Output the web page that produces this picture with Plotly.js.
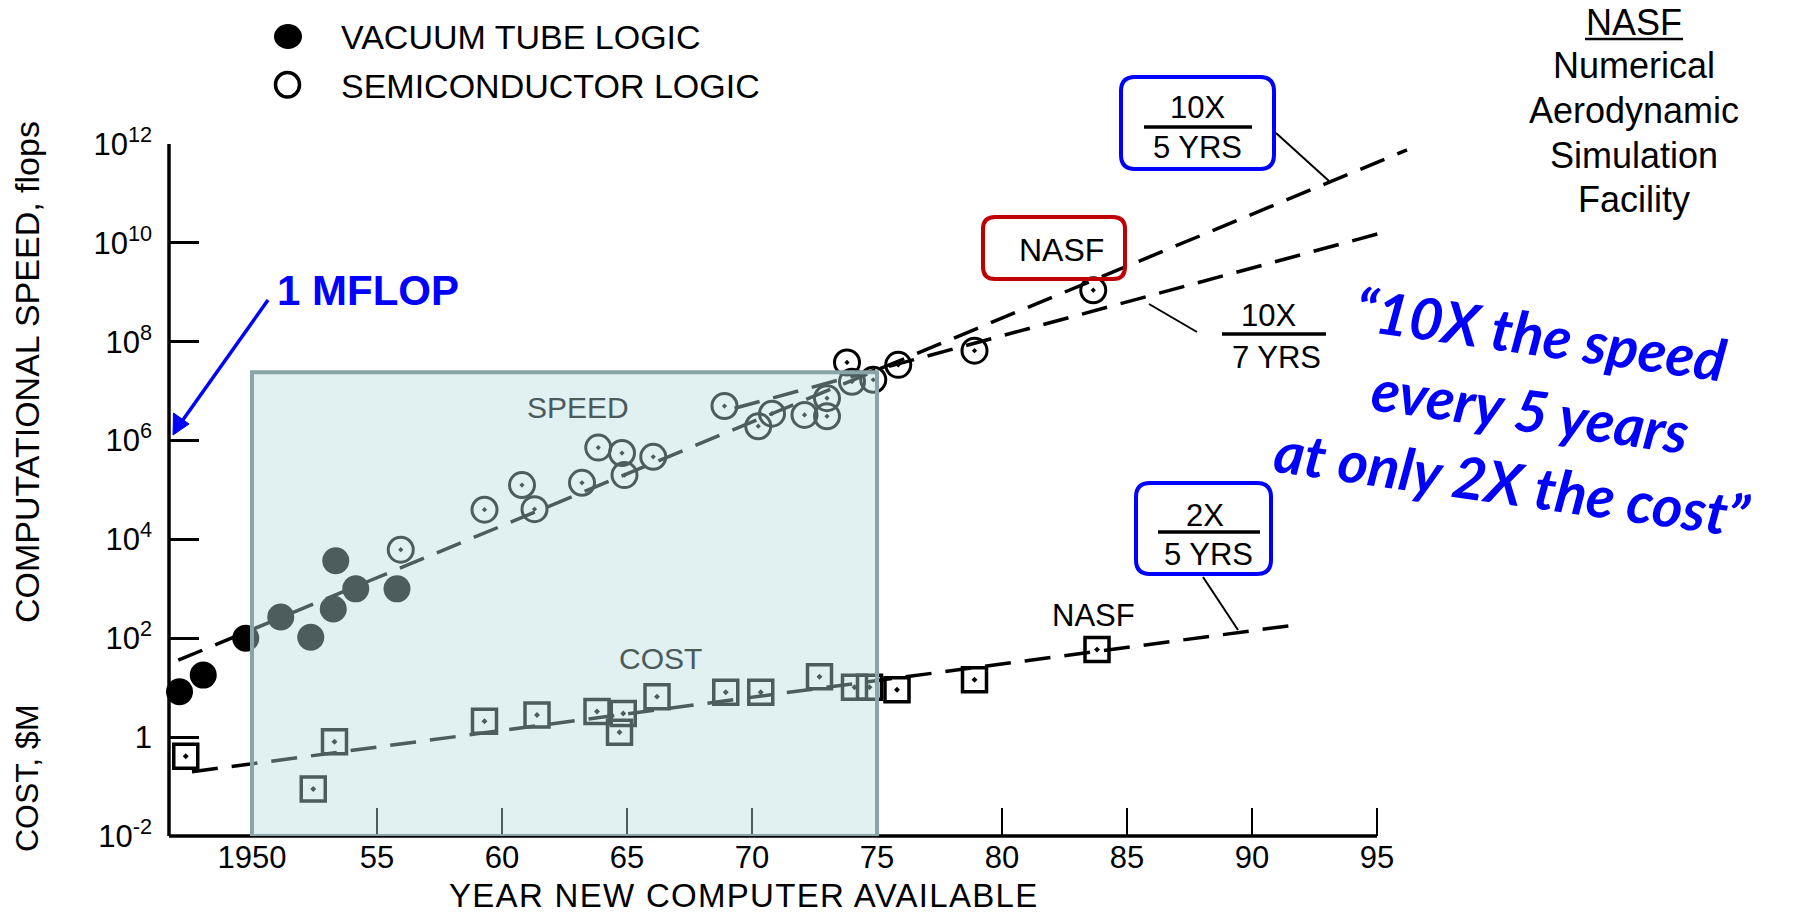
<!DOCTYPE html>
<html>
<head>
<meta charset="utf-8">
<script src="https://cdn.plot.ly/plotly-3.0.1.min.js"></script>
<style>html,body{margin:0;padding:0;background:#fff;}#chart{width:1794px;height:914px;}</style>
</head>
<body>
<div id="chart"></div>
<script>
// ---------------- data ----------------
const vacuumYear  = [1947.1, 1948.05, 1949.75, 1951.15, 1952.35, 1953.25, 1953.35, 1954.15, 1955.8];
const vacuumFlops = [8.3, 18, 100, 270, 105, 390, 3700, 1000, 1000];

const semiYear  = [1955.95, 1959.3, 1960.8, 1961.3, 1963.2, 1963.85, 1964.8, 1964.9, 1966.05, 1968.9,
                   1970.25, 1970.8, 1972.1, 1973.0, 1973.0, 1973.8, 1974.0, 1974.85, 1975.85, 1978.9, 1983.65];
const semiFlops = [6.2e3, 4.0e4, 1.26e5, 4.1e4, 1.4e5, 7.2e5, 5.6e5, 2.0e5, 4.7e5, 5.0e6,
                   1.95e6, 3.5e6, 3.3e6, 3.1e6, 7.2e6, 3.8e7, 1.55e7, 1.7e7, 3.4e7, 6.6e7, 1.1e9];

const costYear = [1947.35, 1952.45, 1953.3, 1959.3, 1961.4, 1963.8, 1964.85, 1964.7, 1966.2, 1968.95,
                  1970.35, 1972.7, 1974.1, 1974.7, 1975.8, 1978.9, 1983.8];
const costM    = [0.41, 0.089, 0.81, 2.1, 2.8, 3.3, 3.0, 1.26, 6.6, 8.1,
                  8.1, 16.6, 10.2, 10.2, 9.1, 14.5, 59];

const trend10x5Year = [1947.05, 1996.2];
const trend10x5Flops = [36, 7.6e11];
const trend10x7Year = [1969.3, 1995.1];
const trend10x7Flops = [4.5e6, 1.55e10];
const trend2x5Year = [1947.6, 1991.6];
const trend2x5Cost = [0.2, 182];

const highlightYears = [1950, 1975];
const highlightRange = [0.01, 2.4e7];

const xTickVals = [1950, 1955, 1960, 1965, 1970, 1975, 1980, 1985, 1990, 1995];
const xTickText = ['1950', '55', '60', '65', '70', '75', '80', '85', '90', '95'];
const yTickVals = [1e-2, 1, 1e2, 1e4, 1e6, 1e8, 1e10, 1e12];
const yTickText = ['10<sup>-2</sup>', '1', '10<sup>2</sup>', '10<sup>4</sup>', '10<sup>6</sup>',
                   '10<sup>8</sup>', '10<sup>10</sup>', '10<sup>12</sup>'];

// ---------------- layout helpers ----------------
const L = 169, T = 144, PW = 1243, PH = 692;
const px = x => (x - L) / PW;
const py = y => (T + PH - y) / PH;
const FONT = 'Liberation Sans, Arial, sans-serif';
const BLUE = '#0000ff';
const GREY = '#4b5a5b';
const ls = (t, s) => `<span style="letter-spacing:${s}px">${t}</span>`;

function rr(x0, y0, x1, y1, r) {
  const P = (x, y) => `${px(x)},${py(y)}`;
  return `M${P(x0 + r, y0)} L${P(x1 - r, y0)} Q${P(x1, y0)} ${P(x1, y0 + r)} L${P(x1, y1 - r)} Q${P(x1, y1)} ${P(x1 - r, y1)} ` +
         `L${P(x0 + r, y1)} Q${P(x0, y1)} ${P(x0, y1 - r)} L${P(x0, y0 + r)} Q${P(x0, y0)} ${P(x0 + r, y0)} Z`;
}
function pline(x0, y0, x1, y1, w, c) {
  return {type: 'line', xref: 'paper', yref: 'paper', x0: px(x0), y0: py(y0), x1: px(x1), y1: py(y1),
          line: {color: c || 'black', width: w}, layer: 'above'};
}
function ann(text, x, y, size, opts) {
  return Object.assign({text: text, xref: 'paper', yref: 'paper', x: px(x), y: py(y),
    xanchor: 'center', yanchor: 'middle', showarrow: false,
    font: {family: FONT, size: size, color: 'black'}}, opts || {});
}

const dash = '26px,14px';
const traces = [
  {x: trend10x5Year, y: trend10x5Flops, mode: 'lines', line: {color: 'black', width: 3.5, dash: dash}, hoverinfo: 'skip'},
  {x: trend10x7Year, y: trend10x7Flops, mode: 'lines', line: {color: 'black', width: 3.5, dash: dash}, hoverinfo: 'skip'},
  {x: trend2x5Year, y: trend2x5Cost, mode: 'lines', line: {color: 'black', width: 3.5, dash: dash}, hoverinfo: 'skip'},
  {x: vacuumYear, y: vacuumFlops, mode: 'markers', name: 'VACUUM TUBE LOGIC', cliponaxis: false,
   marker: {symbol: 'circle', size: 27, color: 'black', line: {width: 0}}},
  {x: semiYear, y: semiFlops, mode: 'markers', name: 'SEMICONDUCTOR LOGIC', cliponaxis: false,
   marker: {symbol: 'circle-open-dot', size: 25, color: 'black', line: {width: 3, color: 'black'}}},
  {x: costYear, y: costM, mode: 'markers', name: 'COST', cliponaxis: false,
   marker: {symbol: 'square-open-dot', size: 24, color: 'black', line: {width: 3.5, color: 'black'}}}
];

const shapes = [
  // axis lines
  pline(169, 144, 169, 836, 3.5),
  pline(169, 836, 1377, 836, 3.5),
  // highlight box 1950-1975 (drawn over the marks, tinting them)
  {type: 'rect', xref: 'x', yref: 'y', x0: highlightYears[0], x1: highlightYears[1],
   y0: highlightRange[0], y1: highlightRange[1],
   fillcolor: 'rgba(183,220,220,0.42)', line: {color: '#8aa5a7', width: 4}, layer: 'above'},
  // legend glyphs
  {type: 'circle', xref: 'paper', yref: 'paper', x0: px(274), x1: px(302), y0: py(24), y1: py(49),
   fillcolor: 'black', line: {width: 0}},
  {type: 'circle', xref: 'paper', yref: 'paper', x0: px(275.5), x1: px(299.5), y0: py(72.5), y1: py(97),
   fillcolor: 'rgba(0,0,0,0)', line: {color: 'black', width: 3.5}},
  // rounded boxes
  {type: 'path', xref: 'paper', yref: 'paper', path: rr(983, 217, 1125, 279, 12), line: {color: '#c00000', width: 4}, layer: 'above'},
  {type: 'path', xref: 'paper', yref: 'paper', path: rr(1121, 77, 1274, 169, 14), line: {color: BLUE, width: 4}, layer: 'above'},
  {type: 'path', xref: 'paper', yref: 'paper', path: rr(1136, 483, 1271, 574, 14), line: {color: BLUE, width: 4}, layer: 'above'},
  // fraction bars
  pline(1144, 127, 1252, 127, 3.5),
  pline(1222, 334, 1326, 334, 3.5),
  pline(1158, 532, 1260, 532, 3.5),
  // connectors
  pline(1276, 133, 1329, 181, 2),
  pline(1149, 304, 1197, 332, 2),
  pline(1203, 577, 1238, 630, 2),
  // NASF underline
  pline(1585, 39, 1683, 39, 2.5),
  // 1 MFLOP arrow shaft + head
  pline(268, 300, 180, 424, 3.5, BLUE),
  {type: 'path', xref: 'paper', yref: 'paper', fillcolor: BLUE, line: {color: BLUE, width: 1},
   path: `M${px(173)},${py(435)} L${px(173.5)},${py(413)} L${px(189)},${py(424)} Z`}
];

const QFONT = {family: 'Lato, Open Sans, sans-serif', size: 58, color: BLUE, weight: 700, style: 'italic'};
const annotations = [
  // legend
  ann('VACUUM TUBE LOGIC', 339, 37, 34, {xanchor: 'left'}),
  ann('SEMICONDUCTOR LOGIC', 339, 86, 34, {xanchor: 'left'}),
  // axis titles
  ann('COMPUTATIONAL SPEED, flops', 27, 372, 34, {textangle: -90}),
  ann('COST, $M', 27, 778, 32, {textangle: -90}),
  ann(ls('YEAR NEW COMPUTER AVAILABLE', 1.3), 744, 895, 33),
  // in-chart labels
  ann('SPEED', 578, 407, 30, {font: {family: FONT, size: 30, color: GREY}}),
  ann('COST', 660, 658, 30, {font: {family: FONT, size: 30, color: GREY}}),
  ann('NASF', 1093, 615, 31),
  ann('NASF', 1061, 250, 32),
  ann('10X', 1197, 107, 31),
  ann('5 YRS', 1197, 147, 31),
  ann('10X', 1268, 315, 31),
  ann('7 YRS', 1276, 357, 31),
  ann('2X', 1205, 515, 31),
  ann('5 YRS', 1208, 554, 31),
  // right-side caption
  ann('NASF', 1634, 22, 36),
  ann('Numerical', 1634, 65, 36),
  ann('Aerodynamic', 1634, 110, 36),
  ann('Simulation', 1634, 155, 36),
  ann('Facility', 1634, 200, 36),
  // 1 MFLOP
  ann('<b>1 MFLOP</b>', 368, 290, 42, {font: {family: FONT, size: 42, color: BLUE}}),
  // quote
  ann('\u201C10X the speed', 1541, 333, 58, {textangle: 8, font: QFONT}),
  ann('every 5 years', 1530, 409, 58, {textangle: 8, font: QFONT}),
  ann('at only 2X the cost\u201D', 1512, 482, 58, {textangle: 8, font: QFONT})
];

const layout = {
  width: 1794, height: 914,
  margin: {l: 169, r: 382, t: 144, b: 78, pad: 0},
  paper_bgcolor: 'white', plot_bgcolor: 'white',
  showlegend: false,
  xaxis: {range: [1946.68, 1996.4], showline: false, showgrid: false, zeroline: false,
          ticks: 'inside', ticklen: 28, tickwidth: 2.5, tickcolor: 'black',
          tickmode: 'array', tickvals: xTickVals, ticktext: xTickText, ticklabelstandoff: 0,
          tickfont: {family: FONT, size: 31, color: 'black'}, fixedrange: true},
  yaxis: {type: 'log', range: [-2, 12], showline: false, showgrid: false, zeroline: false,
          ticks: 'inside', ticklen: 30, tickwidth: 3, tickcolor: 'black',
          tickmode: 'array', tickvals: yTickVals, ticktext: yTickText, ticklabelstandoff: 16,
          tickfont: {family: FONT, size: 31, color: 'black'}, fixedrange: true},
  shapes: shapes,
  annotations: annotations
};

Plotly.newPlot('chart', traces, layout, {displayModeBar: false, staticPlot: true});
</script>
</body>
</html>
